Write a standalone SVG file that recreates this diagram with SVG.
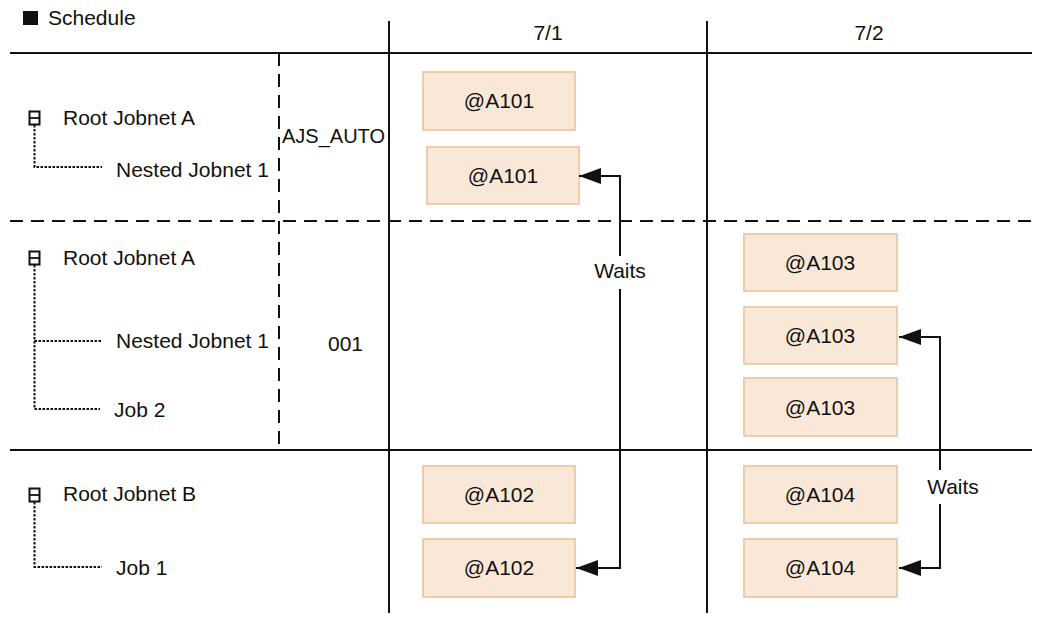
<svg xmlns="http://www.w3.org/2000/svg" width="1040" height="627" viewBox="0 0 1040 627">
<defs>
<style>
text{font-family:"Liberation Sans",Arial,sans-serif;font-size:21px;fill:#111}
.c{text-anchor:middle}
.solid{stroke:#111;stroke-width:2;fill:none}
.dash{stroke:#111;stroke-width:2;fill:none;stroke-dasharray:13 8}
.dot{stroke:#111;stroke-width:2;fill:none;stroke-dasharray:2.5 1.5}
.box{fill:#F9E7D7;stroke:#EFC8A2;stroke-width:1.8}
.icon{fill:#fff;stroke:#111;stroke-width:2}
.wire{stroke:#111;stroke-width:2;fill:none}
</style>
<marker id="ah" markerWidth="22" markerHeight="16" refX="22" refY="8" orient="auto" markerUnits="userSpaceOnUse">
<path d="M0,0 L22,8 L0,16 Z" fill="#111"/>
</marker>
</defs>
<rect width="1040" height="627" fill="#fff"/>
<g id="title">
<rect x="23" y="11" width="15" height="14" fill="#111"/>
<text x="48" y="25">Schedule</text>
</g>
<g id="grid">
<line class="solid" x1="10" y1="53" x2="1032" y2="53"/>
<line class="dash" x1="10" y1="221" x2="1032" y2="221"/>
<line class="solid" x1="10" y1="450" x2="1032" y2="450"/>
<line class="solid" x1="389" y1="21" x2="389" y2="613"/>
<line class="solid" x1="707" y1="21" x2="707" y2="613"/>
<line class="dash" x1="279" y1="53" x2="279" y2="450"/>
<text class="c" x="548" y="40">7/1</text>
<text class="c" x="869" y="40">7/2</text>
<text x="282" y="143" style="font-size:20px">AJS_AUTO</text>
<text x="328" y="351">001</text>
</g>
<g id="tree1">
<polyline class="dot" points="34.5,125 34.5,167 102,167"/>
<rect class="icon" x="29.5" y="111.5" width="10" height="13"/>
<line x1="29.5" y1="118" x2="39.5" y2="118" stroke="#111" stroke-width="1.8"/>
<text x="63" y="125">Root Jobnet A</text>
<text x="116" y="177">Nested Jobnet 1</text>
</g>
<g id="tree2">
<polyline class="dot" points="34.5,265 34.5,409 100,409"/>
<line class="dot" x1="34.5" y1="341" x2="102" y2="341"/>
<rect class="icon" x="29.5" y="251.5" width="10" height="13"/>
<line x1="29.5" y1="258" x2="39.5" y2="258" stroke="#111" stroke-width="1.8"/>
<text x="63" y="265">Root Jobnet A</text>
<text x="116" y="348">Nested Jobnet 1</text>
<text x="114" y="417">Job 2</text>
</g>
<g id="tree3">
<polyline class="dot" points="34.5,502 34.5,567 102,567"/>
<rect class="icon" x="29.5" y="488.5" width="10" height="13"/>
<line x1="29.5" y1="495" x2="39.5" y2="495" stroke="#111" stroke-width="1.8"/>
<text x="63" y="501">Root Jobnet B</text>
<text x="116" y="575">Job 1</text>
</g>
<g id="n-a101-1"><rect class="box" x="423" y="72" width="152" height="58"/><text class="c" x="499" y="108">@A101</text></g>
<g id="n-a101-2"><rect class="box" x="427" y="147" width="152" height="57"/><text class="c" x="503" y="183">@A101</text></g>
<g id="n-a102-1"><rect class="box" x="423" y="466" width="152" height="57"/><text class="c" x="499" y="502">@A102</text></g>
<g id="n-a102-2"><rect class="box" x="423" y="539" width="152" height="58"/><text class="c" x="499" y="575">@A102</text></g>
<g id="n-a103-1"><rect class="box" x="744" y="234" width="153" height="57"/><text class="c" x="820" y="270">@A103</text></g>
<g id="n-a103-2"><rect class="box" x="744" y="307" width="153" height="57"/><text class="c" x="820" y="343">@A103</text></g>
<g id="n-a103-3"><rect class="box" x="744" y="378" width="153" height="58"/><text class="c" x="820" y="415">@A103</text></g>
<g id="n-a104-1"><rect class="box" x="744" y="466" width="153" height="57"/><text class="c" x="820" y="502">@A104</text></g>
<g id="n-a104-2"><rect class="box" x="744" y="539" width="153" height="58"/><text class="c" x="820" y="575">@A104</text></g>
<g id="connectors">
<polyline class="wire" points="620,256 620,176 579,176" marker-end="url(#ah)"/>
<polyline class="wire" points="620,289 620,568 576,568" marker-end="url(#ah)"/>
<text class="c" x="620" y="278">Waits</text>
<polyline class="wire" points="940,470 940,337 899,337" marker-end="url(#ah)"/>
<polyline class="wire" points="940,504 940,568 899,568" marker-end="url(#ah)"/>
<text class="c" x="953" y="494">Waits</text>
</g>
</svg>
